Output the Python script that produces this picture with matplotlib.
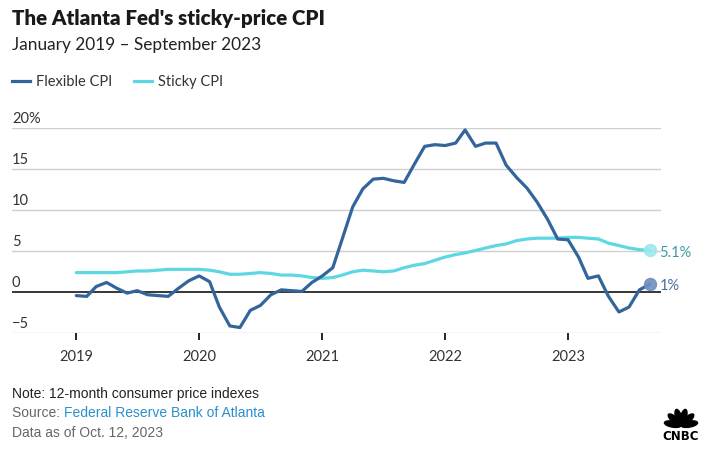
import numpy as np
import pandas as pd
import matplotlib
matplotlib.use('Agg')
import matplotlib.pyplot as plt
from matplotlib.lines import Line2D
from matplotlib.patches import Ellipse

# monthly 12-month % change, Jan 2019 - Sep 2023
flexible = [-0.4, -0.5, 0.7, 1.2, 0.5, -0.1, 0.2, -0.3, -0.4, -0.5, 0.5, 1.4,
            2.0, 1.3, -1.8, -4.1, -4.3, -2.2, -1.6, -0.3, 0.3, 0.2, 0.1, 1.2,
            2.0, 3.0, 6.5, 10.4, 12.6, 13.8, 13.9, 13.6, 13.4, 15.6, 17.8, 18.0,
            17.9, 18.2, 19.8, 17.8, 18.2, 18.2, 15.5, 14.0, 12.7, 11.0, 8.9, 6.5,
            6.4, 4.3, 1.7, 2.0, -0.5, -2.4, -1.8, 0.3, 1.0]
sticky = [2.4, 2.4, 2.4, 2.4, 2.4, 2.5, 2.6, 2.6, 2.7, 2.8, 2.8, 2.8,
          2.8, 2.7, 2.5, 2.2, 2.2, 2.3, 2.4, 2.3, 2.1, 2.1, 2.0, 1.8,
          1.7, 1.8, 2.1, 2.5, 2.7, 2.6, 2.5, 2.6, 3.0, 3.3, 3.5, 3.9,
          4.3, 4.6, 4.8, 5.1, 5.4, 5.7, 5.9, 6.3, 6.5, 6.6, 6.6, 6.6,
          6.7, 6.7, 6.6, 6.5, 6.0, 5.7, 5.4, 5.2, 5.1]
dates = pd.date_range('2019-01-01', periods=len(flexible), freq='MS')
year_ticks = pd.to_datetime(['2019-01-01', '2020-01-01', '2021-01-01', '2022-01-01', '2023-01-01'])
year_labels = ['2019', '2020', '2021', '2022', '2023']
y_ticks = [-5, 0, 5, 10, 15, 20]
y_labels = ['\u22125', '0', '5', '10', '15', '20%']

flex_color = '#33659a'
sticky_color = '#5dd8e2'

plt.rcParams['font.family'] = ['Lato', 'DejaVu Sans']

W, H = 727, 458
fig = plt.figure(figsize=(W / 100, H / 100), dpi=100)
ax = fig.add_axes([12 / W, 1 - 333.3 / H, (661 - 12) / W, (333.3 - 128.3) / H])

ax.set_ylim(-5, 20)
left = dates[0] - pd.Timedelta(days=int(6.3 * 30.44))
right = dates[-1] + pd.Timedelta(days=int(1.1 * 30.44))
ax.set_xlim(left, right)

for v, lab in zip(y_ticks, y_labels):
    if v == 0:
        ax.axhline(0, color='black', lw=1.1, zorder=3)
    else:
        ax.axhline(v, color='#cfcfcf', lw=1.0, zorder=1)
    ax.annotate(lab, xy=(0, v), xycoords=('axes fraction', 'data'),
                xytext=(0, 1.5), textcoords='offset points', ha='left', va='bottom',
                fontsize=10.5, color='#333333')

ax.plot(dates, sticky, color=sticky_color, lw=2.3, solid_capstyle='round',
        solid_joinstyle='round', zorder=4)
ax.plot(dates, flexible, color=flex_color, lw=2.3, solid_capstyle='round',
        solid_joinstyle='round', zorder=5)

ax.scatter([dates[-1]], [sticky[-1]], s=75, color='#9fe6ee', zorder=6, alpha=0.9)
ax.scatter([dates[-1]], [flexible[-1]], s=75, color='#6f8fc0', zorder=6, alpha=0.9)
ax.annotate('5.1%', xy=(dates[-1], sticky[-1]), xytext=(7, -1.5), textcoords='offset points',
            ha='left', va='center', fontsize=10.5, color='#3a9aa3')
ax.annotate('1%', xy=(dates[-1], flexible[-1]), xytext=(7, -1.5), textcoords='offset points',
            ha='left', va='center', fontsize=10.5, color='#4a6f9e')

ax.set_xticks(year_ticks)
ax.set_xticklabels(year_labels)
ax.tick_params(axis='x', length=5, width=1.2, color='black', pad=7,
               labelsize=10.5, labelcolor='#333333')
ax.set_yticks([])
for s in ax.spines.values():
    s.set_visible(False)
ax.patch.set_alpha(0)

# titles
fig.text(12 / W, 1 - 18 / H, "The Atlanta Fed's sticky-price CPI", fontsize=14.8,
         fontweight='heavy', color='#1a1a1a', va='center', ha='left')
fig.text(12 / W, 1 - 45 / H, 'January 2019 \u2013 September 2023', fontsize=12.4,
         color='#222222', va='center', ha='left')

# legend
handles = [Line2D([], [], color=flex_color, lw=2.3), Line2D([], [], color=sticky_color, lw=2.3)]
fig.legend(handles, ['Flexible CPI', 'Sticky CPI'], loc='center left',
           bbox_to_anchor=(12 / W, 1 - 82 / H), ncol=2, frameon=False, fontsize=10.5,
           borderpad=0, borderaxespad=0, handlelength=1.25, handletextpad=0.4,
           columnspacing=1.5, labelcolor='#333333')

# footer
foot = ['Liberation Sans', 'DejaVu Sans']
fig.text(12 / W, 1 - 394 / H, 'Note: 12-month consumer price indexes', fontsize=10,
         family=foot, color='#222222', va='center')
t = fig.text(12 / W, 1 - 413 / H, 'Source: ', fontsize=10, family=foot,
             color='#666666', va='center')
fig.canvas.draw()
bb = t.get_window_extent()
fig.text(bb.x1 / W, 1 - 413 / H, 'Federal Reserve Bank of Atlanta', fontsize=10,
         family=foot, color='#2a8fce', va='center')
fig.text(12 / W, 1 - 433 / H, 'Data as of Oct. 12, 2023', fontsize=10, family=foot,
         color='#666666', va='center')

# CNBC peacock
logo = fig.add_axes([661 / W, 1 - 442 / H, 40 / W, 40 / H])
logo.set_xlim(-1, 1)
logo.set_ylim(-1, 1)
logo.axis('off')
for ang in np.linspace(170, 10, 6):
    r = np.radians(ang)
    logo.add_patch(Ellipse((0.42 * np.cos(r), 0.42 * np.sin(r) - 0.18), 0.3, 0.84,
                           angle=ang - 90, color='black'))
logo.text(0, -0.74, 'CNBC', ha='center', va='center', fontsize=8.5, fontweight='heavy',
          family=['DejaVu Sans'], color='black')

fig.savefig('out.png', dpi=100)
